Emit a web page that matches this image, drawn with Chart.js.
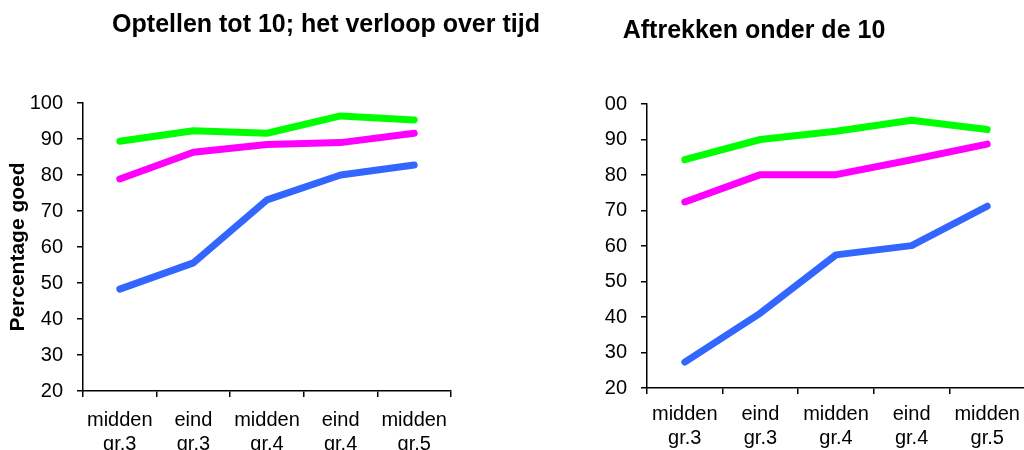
<!DOCTYPE html>
<html>
<head>
<meta charset="utf-8">
<script src="https://cdn.jsdelivr.net/npm/chart.js@4/dist/chart.umd.min.js"></script>
<style>
  html, body { margin: 0; padding: 0; background: #fff; overflow: hidden; }
  #links { position: absolute; left: 0; top: 0; }
  #rechtsBox { position: absolute; left: 605px; top: 0; width: 419px; height: 450px; overflow: hidden; }
  #rechts { position: absolute; left: -32px; top: 0; }
</style>
</head>
<body>
<canvas id="links" width="600" height="450"></canvas>
<div id="rechtsBox"><canvas id="rechts" width="457" height="450"></canvas></div>
<script>
var momenten = [["midden", "gr.3"], ["eind", "gr.3"], ["midden", "gr.4"], ["eind", "gr.4"], ["midden", "gr.5"]];

var optellenGroen = [89.4, 92.3, 91.6, 96.4, 95.3];
var optellenRoze = [78.9, 86.3, 88.5, 89.0, 91.6];
var optellenBlauw = [48.3, 55.6, 73.1, 80.0, 82.8];

var aftrekkenGroen = [84.3, 90.0, 92.3, 95.4, 92.8];
var aftrekkenRoze = [72.4, 80.1, 80.1, 84.3, 88.7];
var aftrekkenBlauw = [27.3, 41.1, 57.5, 60.1, 71.2];

var yMin = 20, yMax = 100, yStap = 10;

var fontFamily = "'Liberation Sans', Arial, sans-serif";

// title drawn at a fixed spot, the charts are not centred under it
var plotTitle = {
    id: 'plotTitle',
    afterDraw: function (chart, args, opts) {
        var ctx = chart.ctx;
        ctx.save();
        ctx.font = 'bold 25px ' + fontFamily;
        ctx.fillStyle = '#000';
        ctx.textAlign = 'center';
        ctx.textBaseline = 'middle';
        ctx.fillText(opts.text, opts.x, opts.y);
        ctx.restore();
    }
};

function lijn(data, kleur) {
    return {
        data: data,
        borderColor: kleur,
        backgroundColor: kleur,
        borderWidth: 7,
        borderCapStyle: 'round',
        borderJoinStyle: 'round',
        pointRadius: 0,
        tension: 0,
        fill: false
    };
}

function maakGrafiek(id, reeksen, opties) {
    var context = document.getElementById(id).getContext('2d');
    return new Chart(context, {
        type: 'line',
        data: {
            labels: momenten,
            datasets: [
                lijn(reeksen[0], '#00ff00'),
                lijn(reeksen[1], '#ff00ff'),
                lijn(reeksen[2], '#3366ff')
            ]
        },
        options: {
            responsive: false,
            animation: false,
            devicePixelRatio: 1,
            layout: { padding: opties.padding },
            plugins: {
                legend: { display: false },
                tooltip: { enabled: false },
                plotTitle: opties.titel
            },
            scales: {
                x: {
                    offset: true,
                    afterFit: function (s) { s.height = opties.xHoogte; },
                    border: { display: true, color: '#000', width: 1.5 },
                    grid: { display: true, offset: true, drawOnChartArea: false, drawTicks: true, tickLength: 6, color: '#000', lineWidth: 1.5 },
                    ticks: { color: '#000', padding: opties.xPadding, maxRotation: 0, autoSkip: false, font: { family: fontFamily, size: 20 } }
                },
                y: {
                    min: yMin,
                    max: yMax,
                    afterFit: function (s) { s.width = opties.yBreedte; },
                    border: { display: true, color: '#000', width: 1.5 },
                    grid: { display: true, drawOnChartArea: false, drawTicks: true, tickLength: 6, color: '#000', lineWidth: 1.5 },
                    ticks: { stepSize: yStap, color: '#000', padding: 14, font: { family: fontFamily, size: 20 } },
                    title: {
                        display: opties.yTitel !== '',
                        text: opties.yTitel,
                        color: '#000',
                        padding: { top: 6, bottom: 0 },
                        font: { family: fontFamily, size: 21, weight: 'bold' }
                    }
                }
            }
        },
        plugins: [plotTitle]
    });
}

maakGrafiek('links', [optellenGroen, optellenRoze, optellenBlauw], {
    padding: { top: 103, right: 149, left: 0, bottom: 0 },
    xHoogte: 59,
    xPadding: 11,
    yBreedte: 83,
    yTitel: 'Percentage goed',
    titel: { text: 'Optellen tot 10; het verloop over tijd', x: 326, y: 25 }
});

maakGrafiek('rechts', [aftrekkenGroen, aftrekkenRoze, aftrekkenBlauw], {
    padding: { top: 104, right: 5, left: 0, bottom: 0 },
    xHoogte: 62,
    xPadding: 8,
    yBreedte: 74,
    yTitel: '',
    titel: { text: 'Aftrekken onder de 10', x: 181, y: 31 }
});
</script>
</body>
</html>
